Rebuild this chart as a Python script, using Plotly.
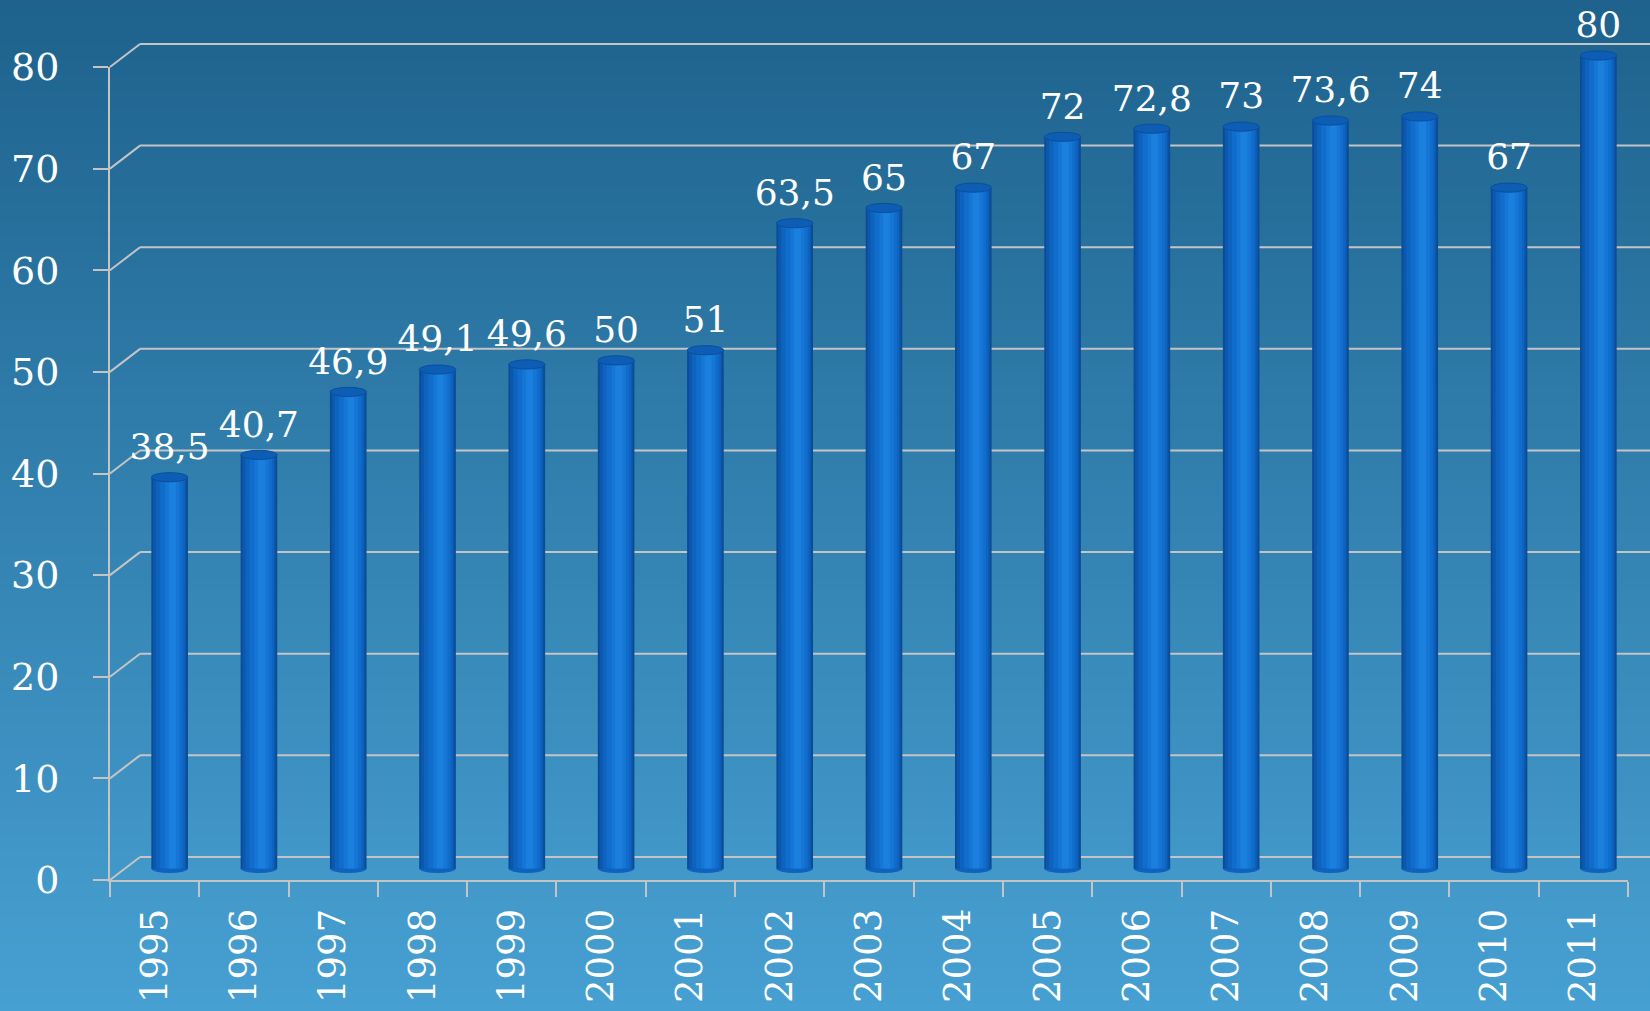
import plotly.graph_objects as go

# ---------------- data ----------------
years = ["1995", "1996", "1997", "1998", "1999", "2000", "2001", "2002", "2003",
         "2004", "2005", "2006", "2007", "2008", "2009", "2010", "2011"]
values = [38.5, 40.7, 46.9, 49.1, 49.6, 50, 51, 63.5, 65, 67, 72, 72.8, 73,
          73.6, 74, 67, 80]
labels = ["38,5", "40,7", "46,9", "49,1", "49,6", "50", "51", "63,5", "65", "67",
          "72", "72,8", "73", "73,6", "74", "67", "80"]
y_ticks = [0, 10, 20, 30, 40, 50, 60, 70, 80]

# ---------------- geometry (pixels) ----------------
W, H = 1650, 1011
X_LEFT, X_RIGHT = 110, 1628      # front plane x extent
Y_ZERO, Y_TOP = 880, 67          # front plane: y pixel of 0 and 80
Y_MAX = 80
DX, DY = 30, 23                  # depth offset of back wall
SCALE = (Y_ZERO - Y_TOP) / Y_MAX


def py(v, depth):
    return Y_ZERO - v * SCALE - depth * DY


def fx(p):
    return p / W


def fy(p):
    return 1 - p / H


def xdom(depth):
    return [fx(X_LEFT + depth * DX), min(1.0, fx(X_RIGHT + depth * DX))]


def ydom(lo, hi, depth):
    return [fy(py(lo, depth)), fy(py(hi, depth))]


FONT = "DejaVu Serif"
GRID = "#c4c4c4"

fig = go.Figure()

# ---------------- bars (mid-depth plane, subplot x2/y2) ----------------
BAR_LO, BAR_HI = -1.5, 83
bar_layers = [
    (0.41, 0.0, "#0a4c98"),
    (0.37, 0.0, "#0c58ad"),
    (0.32, 0.01, "#0e63be"),
    (0.25, 0.02, "#116dcc"),
    (0.16, 0.03, "#1576d6"),
    (0.08, 0.03, "#1b7fdd"),
]
for w, off, col in bar_layers:
    fig.add_trace(go.Bar(
        x=years, y=values, width=w, offset=-w / 2 + off,
        marker=dict(color=col, line=dict(width=0)),
        xaxis="x2", yaxis="y2", hoverinfo="skip", showlegend=False,
    ))

fig.add_trace(go.Scatter(
    x=years, y=[v + 0.9 for v in values], text=labels, mode="text",
    textposition="top center", cliponaxis=False,
    textfont=dict(family=FONT, size=36, color="white"),
    xaxis="x2", yaxis="y2", hoverinfo="skip", showlegend=False,
))

# front plane helper trace (keeps the category axis populated)
fig.add_trace(go.Scatter(
    x=years, y=values, mode="markers", marker=dict(opacity=0),
    xaxis="x3", yaxis="y3", hoverinfo="skip", showlegend=False,
))

shapes = []
# background gradient strips
top_c, bot_c = (30, 98, 141), (71, 160, 210)
N = 120
for k in range(N):
    t = k / (N - 1)
    c = tuple(round(top_c[j] + (bot_c[j] - top_c[j]) * t) for j in range(3))
    shapes.append(dict(type="rect", xref="paper", yref="paper",
                       x0=0, x1=1, y0=1 - k / N, y1=1 - (k + 1) / N - 0.002,
                       fillcolor="rgb(%d,%d,%d)" % c, line=dict(width=0),
                       layer="below"))

# back wall gridlines (subplot xy)
for v in y_ticks:
    shapes.append(dict(type="line", xref="x domain", yref="y",
                       x0=0, x1=1, y0=v, y1=v,
                       line=dict(color=GRID, width=2), layer="below"))
# diagonal connectors front -> back
for v in y_ticks:
    shapes.append(dict(type="line", xref="paper", yref="paper",
                       x0=fx(X_LEFT), y0=fy(py(v, 0)),
                       x1=fx(X_LEFT + DX), y1=fy(py(v, 1)),
                       line=dict(color=GRID, width=2), layer="below"))

# cylinder caps
EH = 4.6 / SCALE
BW = 0.41
for i, v in enumerate(values):
    shapes.append(dict(type="circle", xref="x2", yref="y2",
                       x0=i - BW / 2, x1=i + BW / 2, y0=-EH, y1=EH,
                       fillcolor="#0e63be", line=dict(width=0), layer="below"))
    shapes.append(dict(type="circle", xref="x2", yref="y2",
                       x0=i - BW / 2, x1=i + BW / 2, y0=v - EH, y1=v + EH,
                       fillcolor="#0d5db5", line=dict(color="#0a4f9c", width=1),
                       layer="above"))

hidden = dict(visible=True, showgrid=False, zeroline=False, showline=False,
              showticklabels=False, ticks="", fixedrange=True, automargin=False)

fig.update_layout(
    template="none",
    width=W, height=H,
    margin=dict(l=0, r=0, t=0, b=0, pad=0, autoexpand=False),
    paper_bgcolor="rgb(30,98,141)",
    plot_bgcolor="rgba(0,0,0,0)",
    barmode="overlay",
    showlegend=False,
    hovermode=False,
    shapes=shapes,
    # back wall
    xaxis=dict(domain=xdom(1), range=[0, 1], anchor="y", **hidden),
    yaxis=dict(domain=ydom(BAR_LO, BAR_HI, 1), range=[BAR_LO, BAR_HI],
               anchor="x", **hidden),
    # bars at mid-depth
    xaxis2=dict(domain=xdom(0.5), type="category", categoryarray=years,
                range=[-0.5, len(years) - 0.5], anchor="y2", **hidden),
    yaxis2=dict(domain=ydom(BAR_LO, BAR_HI, 0.5), range=[BAR_LO, BAR_HI],
                anchor="x2", **hidden),
    # front plane with axes
    xaxis3=dict(domain=xdom(0), type="category", categoryarray=years,
                range=[-0.5, len(years) - 0.5], anchor="y3",
                showgrid=False, zeroline=False, showline=True,
                linecolor=GRID, linewidth=2, automargin=False,
                ticks="outside", tickson="boundaries", ticklen=15,
                tickwidth=2, tickcolor=GRID, tickangle=-90,
                ticklabelstandoff=12,
                tickfont=dict(family=FONT, size=37, color="white"),
                fixedrange=True),
    yaxis3=dict(domain=ydom(0, Y_MAX, 0), range=[0, Y_MAX], anchor="x3",
                tickvals=y_ticks, ticktext=[str(t) for t in y_ticks],
                showgrid=False, zeroline=False, showline=True,
                linecolor=GRID, linewidth=2, automargin=False,
                ticks="outside", ticklen=15, tickwidth=2, tickcolor=GRID,
                ticklabelstandoff=26,
                tickfont=dict(family=FONT, size=38, color="white"),
                fixedrange=True),
)

fig.write_html(
    "out.html",
    config={"displayModeBar": False, "staticPlot": True},
    post_script="document.body.style.margin='0';"
                "document.body.style.padding='0';"
                "document.body.style.overflow='hidden';",
)
